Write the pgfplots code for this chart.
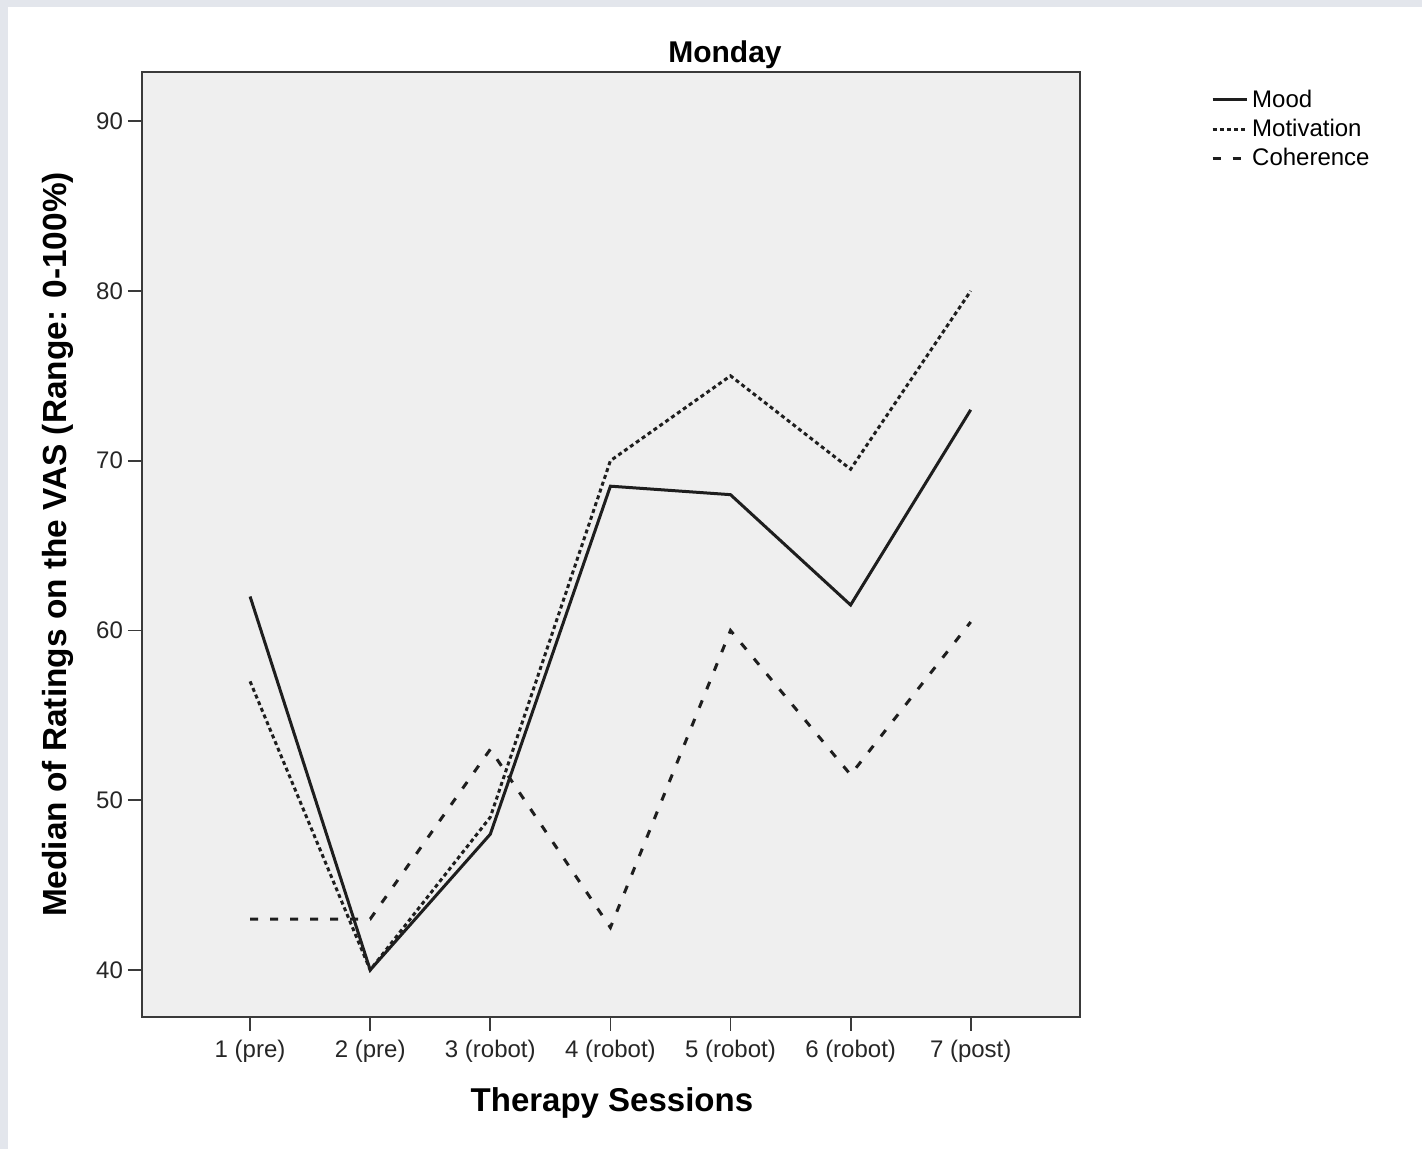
\documentclass[border=0pt]{standalone}
\usepackage{pgfplots}
\pgfplotsset{compat=1.18}
\usepackage{fontspec}
\setmainfont{Liberation Sans}
\definecolor{pagegray}{HTML}{E3E6EC}
\definecolor{plotbg}{HTML}{EFEFEF}
\definecolor{axisc}{HTML}{3A3A3A}
\definecolor{linec}{HTML}{1E1E1E}
\begin{document}
\begin{tikzpicture}
\fill[pagegray] (-71pt,-66pt) rectangle (640pt,508.5pt);
\fill[white] (-67pt,-66pt) rectangle (640pt,505pt);
\begin{axis}[
  at={(0,0)}, anchor=south west,
  width=469pt, height=472.5pt, scale only axis,
  xmin=0.1, xmax=7.91, ymin=37.23, ymax=92.9,
  axis background/.style={fill=plotbg},
  axis line style={axisc, line width=1pt},
  xtick={1,2,3,4,5,6,7},
  xticklabels={1 (pre),2 (pre),3 (robot),4 (robot),5 (robot),6 (robot),7 (post)},
  ytick={40,50,60,70,80,90},
  tick align=outside, tick pos=left,
  major tick length=7pt,
  tick style={axisc, line width=0.9pt},
  /pgf/number format/assume math mode=true,
  ticklabel style={font=\fontsize{12}{14}\selectfont, color=black!85},
  xticklabel style={yshift=-1pt},
  yticklabel style={xshift=1pt},
  xlabel={\textbf{Therapy Sessions}},
  ylabel={\textbf{Median of Ratings on the VAS (Range: 0-100\%)}},
  xlabel style={at={(axis description cs:0.501,-0.091)}, anchor=center, font=\fontsize{16.5}{19}\selectfont},
  ylabel style={at={(axis description cs:-0.0896,0.5)}, anchor=center, font=\fontsize{16.7}{19}\selectfont},
  title={\textbf{Monday}},
  title style={at={(axis description cs:0.6215,1.006)}, anchor=center, font=\fontsize{15}{17}\selectfont},
  legend style={at={(axis description cs:1.1394,0.986)}, anchor=north west, draw=none, fill=none,
     font=\fontsize{12}{14}\selectfont, row sep=0.5pt, inner sep=0pt},
  legend cell align=left,
  legend image code/.code={\draw[#1] (0pt,0pt) -- (17pt,0pt);},
  clip=false,
]
\addplot[linec, line width=1.5pt] coordinates {(1,62) (2,40) (3,48) (4,68.5) (5,68) (6,61.5) (7,73)};
\addlegendentry{Mood}
\addplot[linec, line width=1.5pt, dash pattern=on 2pt off 1.6pt] coordinates {(1,57) (2,40) (3,49) (4,70) (5,75) (6,69.5) (7,80)};
\addlegendentry{Motivation}
\addplot[linec, line width=1.5pt, dash pattern=on 4pt off 6pt] coordinates {(1,43) (2,43) (3,53) (4,42.5) (5,60) (6,51.5) (7,60.5)};
\addlegendentry{Coherence}
\end{axis}
\pgfresetboundingbox
\useasboundingbox (-71pt,-66pt) rectangle (640pt,508.5pt);
\end{tikzpicture}
\end{document}
